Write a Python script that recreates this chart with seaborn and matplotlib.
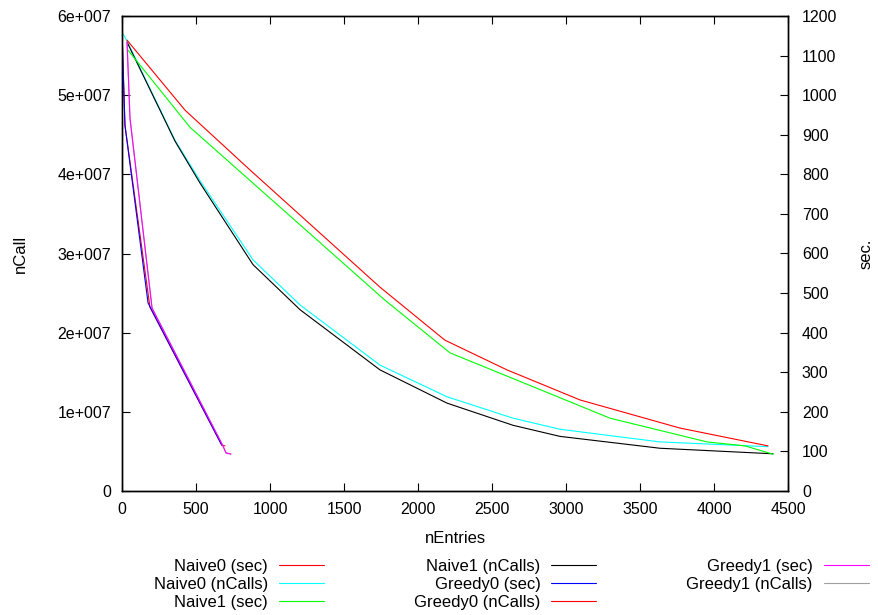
import matplotlib
matplotlib.use("Agg")
import matplotlib.pyplot as plt
import seaborn as sns

# ---- series (x = nEntries) ----
naive0_sec_x = [34, 426, 865, 1743, 2182, 2601, 3095, 3770, 4365]
naive0_sec = [1139, 962, 811, 515, 381, 306, 230, 159, 114]

naive0_calls_x = [0, 40, 358, 527, 885, 1203, 1743, 2196, 2642, 2959, 3635, 4365]
naive0_calls = [5.80e7, 5.66e7, 4.43e7, 3.92e7, 2.92e7, 2.35e7, 1.59e7, 1.19e7, 0.92e7, 0.78e7, 0.62e7, 0.56e7]

naive1_sec_x = [40, 459, 1777, 2216, 2669, 3297, 3953, 4209, 4399]
naive1_sec = [1114, 919, 482, 349, 280, 184, 124, 114, 93]

naive1_calls_x = [34, 358, 527, 885, 1203, 1743, 2196, 2642, 2959, 3635, 4399]
naive1_calls = [5.67e7, 4.42e7, 3.89e7, 2.86e7, 2.29e7, 1.53e7, 1.11e7, 0.83e7, 0.69e7, 0.54e7, 0.47e7]

greedy0_sec_x = [0, 20, 176, 674]
greedy0_sec = [1159, 924, 475, 116]

greedy0_calls_x = [0, 20, 189, 674, 696]
greedy0_calls = [5.80e7, 4.62e7, 2.32e7, 0.58e7, 0.57e7]

greedy1_x = [34, 54, 203, 682, 703, 736]
greedy1_sec = [1134, 942, 462, 114, 96, 93]
greedy1_calls = [5.67e7, 4.71e7, 2.31e7, 0.57e7, 0.48e7, 0.47e7]

# ---- axis ticks ----
x_ticks = [0, 500, 1000, 1500, 2000, 2500, 3000, 3500, 4000, 4500]
calls_ticks = [0, 1e7, 2e7, 3e7, 4e7, 5e7, 6e7]
calls_tick_labels = ["0", "1e+007", "2e+007", "3e+007", "4e+007", "5e+007", "6e+007"]
sec_ticks = [0, 100, 200, 300, 400, 500, 600, 700, 800, 900, 1000, 1100, 1200]

FS = 12
TICK_FS = 11.5

sns.set_theme(style="white")
plt.rcParams["font.family"] = ["Liberation Sans", "DejaVu Sans"]
plt.rcParams["font.size"] = FS
plt.rcParams["text.color"] = "black"
plt.rcParams["axes.labelcolor"] = "black"

fig = plt.figure(figsize=(8.79, 6.15), dpi=100)
ax = fig.add_axes([122 / 879, 1 - 491 / 615, (788 - 122) / 879, (491 - 16) / 615])
ax2 = ax.twinx()

common = dict(estimator=None, sort=False, linewidth=0.8)

# plotted in legend order; each measure goes on its own y axis
entries = [
    ("Naive0 (sec)", ax2, naive0_sec_x, naive0_sec, "#ff0000"),
    ("Naive0 (nCalls)", ax, naive0_calls_x, naive0_calls, "#00ffff"),
    ("Naive1 (sec)", ax2, naive1_sec_x, naive1_sec, "#00ff00"),
    ("Naive1 (nCalls)", ax, naive1_calls_x, naive1_calls, "#000000"),
    ("Greedy0 (sec)", ax2, greedy0_sec_x, greedy0_sec, "#0000ff"),
    ("Greedy0 (nCalls)", ax, greedy0_calls_x, greedy0_calls, "#ff0000"),
    ("Greedy1 (sec)", ax2, greedy1_x, greedy1_sec, "#ff00ff"),
    ("Greedy1 (nCalls)", ax, greedy1_x, greedy1_calls, "#a0a0a0"),
]
handles = []
for label, target, xs, ys, color in entries:
    sns.lineplot(x=xs, y=ys, ax=target, color=color, **common)
    handles.append(target.get_lines()[-1])

for a in (ax, ax2):
    lg = a.get_legend()
    if lg is not None:
        lg.remove()

ax.set_xlim(0, 4500)
ax.set_ylim(0, 6e7)
ax2.set_ylim(0, 1200)
ax.set_xticks(x_ticks)
ax.set_xticklabels([str(t) for t in x_ticks])
ax.set_yticks(calls_ticks)
ax.set_yticklabels(calls_tick_labels)
ax2.set_yticks(sec_ticks)
ax2.set_yticklabels([str(t) for t in sec_ticks])

ax.tick_params(axis="x", direction="in", length=6, width=0.8, top=True, bottom=True,
               pad=8, colors="black", labelsize=TICK_FS)
ax.tick_params(axis="y", direction="in", length=6, width=0.8, left=True, right=False,
               pad=8, colors="black", labelsize=TICK_FS)
ax2.tick_params(axis="y", direction="in", length=6, width=0.8, right=True, left=False,
                pad=10, colors="black", labelsize=TICK_FS)

for a in (ax, ax2):
    for s in a.spines.values():
        s.set_color("black")
        s.set_linewidth(1.0)
        s.set_visible(True)

ax.set_xlabel("nEntries", fontsize=FS, labelpad=10, color="black")
ax.set_ylabel("nCall", fontsize=FS, labelpad=21, color="black")
ax2.set_ylabel("sec.", fontsize=FS, labelpad=15, color="black")

leg = fig.legend(handles=handles, labels=[e[0] for e in entries],
                 loc="upper left", bbox_to_anchor=(154 / 879, 1 - 559 / 615),
                 ncol=3, markerfirst=False, frameon=False, fontsize=FS,
                 handlelength=2.7, handletextpad=0.65, columnspacing=5.4,
                 labelspacing=0.18, borderpad=0, borderaxespad=0)
for t in leg.get_texts():
    t.set_color("black")

fig.savefig("out.png", dpi=100)
